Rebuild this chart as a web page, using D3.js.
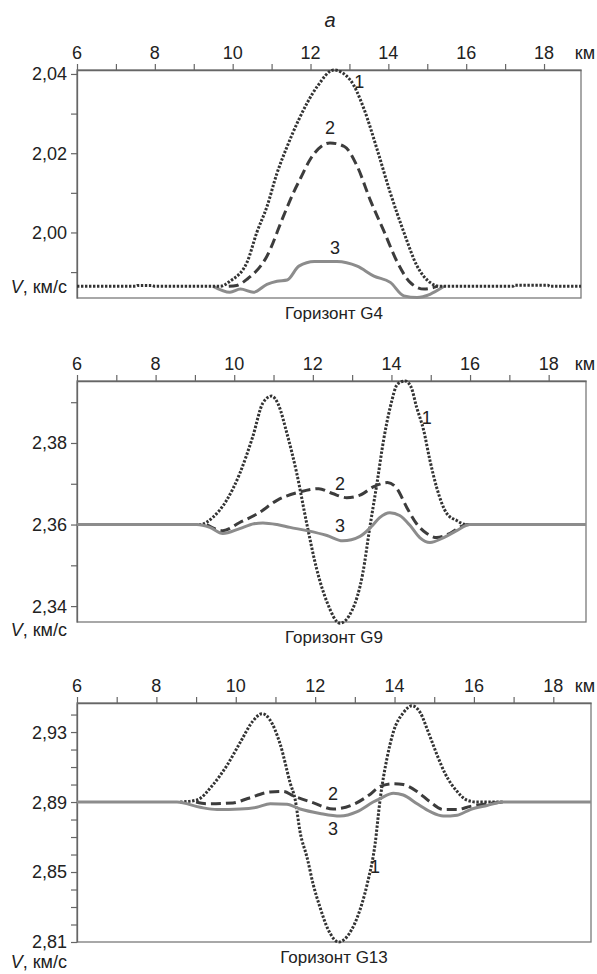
<!DOCTYPE html>
<html>
<head>
<meta charset="utf-8">
<script src="https://cdn.jsdelivr.net/npm/d3@7"></script>
<style>
  body { margin: 0; background: #fff; }
  svg { display: block; font-family: "Liberation Sans", Arial, sans-serif; }
</style>
</head>
<body>
<svg id="chart" width="597" height="974"></svg>
<script>
// x ticks (km) shared by all panels
const xTicks = [6, 7, 8, 9, 10, 11, 12, 13, 14, 15, 16, 17, 18];
const xLabels = [6, 8, 10, 12, 14, 16, 18];

// Horizon G4
const g4Ticks = [1.99, 2.00, 2.01, 2.02, 2.03, 2.04];
const g4Labels = [2.00, 2.02, 2.04];
const g4Curve1 = [[6, 1.9864], [7.5, 1.9864], [7.55, 1.9866], [7.93, 1.9866], [8.0, 1.9864], [9.68, 1.9864], [9.93, 1.9877], [10.37, 1.9925], [10.62, 2.000], [10.88, 2.0065], [11.14, 2.015], [11.4, 2.0217], [11.7, 2.0285], [12.17, 2.0368], [12.6, 2.041], [13.02, 2.0385], [13.38, 2.031], [13.71, 2.021], [14.05, 2.010], [14.4, 2.000], [14.74, 1.9915], [15.07, 1.9874], [15.33, 1.9864], [17.2, 1.9864], [17.25, 1.9867], [18.1, 1.9867], [18.15, 1.9864], [18.95, 1.9864]];
const g4Curve2 = [[9.9, 1.9864], [10.1, 1.9866], [10.37, 1.9882], [10.88, 1.994], [11.3, 2.004], [11.55, 2.0098], [11.75, 2.0138], [11.99, 2.0184], [12.5, 2.0226], [12.87, 2.0217], [13.2, 2.0167], [13.53, 2.0083], [13.9, 2.000], [14.23, 1.9925], [14.56, 1.9874], [14.92, 1.9857], [15.25, 1.9864]];
const g4Curve3 = [[9.5, 1.9864], [9.93, 1.9849], [10.2, 1.9857], [10.53, 1.9849], [10.88, 1.9869], [11.14, 1.9877], [11.4, 1.988], [11.7, 1.9915], [12.1, 1.9927], [12.68, 1.9927], [13.2, 1.9915], [13.63, 1.989], [14.05, 1.9874], [14.4, 1.984], [14.74, 1.9836], [15.07, 1.9844], [15.43, 1.9864]];
const g4Numbers = [["1", 13.25, 2.038], ["2", 12.5, 2.0264], ["3", 12.63, 1.9963]];

// Horizon G9
const g9Ticks = [2.34, 2.35, 2.36, 2.37, 2.38, 2.39];
const g9Labels = [2.34, 2.36, 2.38];
const g9Curve1 = [[9.0, 2.36], [9.13, 2.360], [9.46, 2.3618], [9.81, 2.366], [10.14, 2.3725], [10.47, 2.3815], [10.73, 2.3898], [10.95, 2.3915], [11.12, 2.3895], [11.34, 2.3824], [11.59, 2.3726], [11.85, 2.36], [12.1, 2.349], [12.36, 2.341], [12.69, 2.3358], [13.0, 2.339], [13.27, 2.348], [13.45, 2.3593], [13.63, 2.370], [13.8, 2.3807], [13.97, 2.3888], [14.16, 2.3945], [14.35, 2.3952], [14.5, 2.3937], [14.64, 2.3888], [14.82, 2.3831], [14.98, 2.3757], [15.15, 2.3691], [15.41, 2.3627], [15.66, 2.361], [15.9, 2.36], [16.0, 2.36]];
const g9Curve2 = [[9.3, 2.36], [9.5, 2.359], [9.71, 2.3585], [10.14, 2.3605], [10.6, 2.3627], [11.1, 2.366], [11.67, 2.368], [12.15, 2.3688], [12.5, 2.3676], [12.86, 2.3666], [13.2, 2.3672], [13.55, 2.3693], [13.9, 2.3703], [14.14, 2.3688], [14.39, 2.3642], [14.64, 2.3602], [14.9, 2.3578], [15.15, 2.3568], [15.48, 2.3578], [15.84, 2.3598], [16.0, 2.36]];
const g9Curve3 = [[6, 2.36], [9.05, 2.36], [9.38, 2.3593], [9.71, 2.3578], [10.14, 2.359], [10.5, 2.3602], [10.73, 2.3604], [11.09, 2.36], [11.42, 2.3593], [11.85, 2.3585], [12.36, 2.3573], [12.76, 2.356], [13.2, 2.3571], [13.5, 2.3596], [13.7, 2.3617], [13.96, 2.3629], [14.21, 2.3622], [14.47, 2.3598], [14.72, 2.3568], [14.98, 2.3556], [15.33, 2.3568], [15.66, 2.3585], [15.99, 2.36], [18.95, 2.36]];
const g9Numbers = [["1", 14.9, 2.3863], ["2", 12.69, 2.3701], ["3", 12.69, 2.3598]];

// Horizon G13
const g13Ticks = [2.81, 2.82, 2.83, 2.84, 2.85, 2.86, 2.87, 2.88, 2.89, 2.90, 2.91, 2.92, 2.93, 2.94];
const g13Labels = [2.81, 2.85, 2.89, 2.93];
const g13Curve1 = [[8.6, 2.89], [9.02, 2.8912], [9.43, 2.9], [9.78, 2.911], [10.11, 2.924], [10.44, 2.9365], [10.66, 2.9405], [10.86, 2.937], [11.12, 2.923], [11.37, 2.901], [11.5, 2.891], [11.62, 2.873], [11.8, 2.858], [11.95, 2.843], [12.12, 2.83], [12.33, 2.817], [12.6, 2.81], [12.8, 2.813], [13.06, 2.824], [13.31, 2.843], [13.51, 2.866], [13.64, 2.892], [13.81, 2.915], [13.97, 2.93], [14.22, 2.941], [14.44, 2.945], [14.65, 2.941], [14.85, 2.93], [15.07, 2.917], [15.28, 2.906], [15.58, 2.896], [15.83, 2.891], [16.08, 2.89], [16.74, 2.89]];
const g13Curve2 = [[9.0, 2.89], [9.27, 2.889], [9.93, 2.8895], [10.3, 2.892], [10.86, 2.8957], [11.2, 2.896], [11.45, 2.8935], [11.96, 2.8895], [12.46, 2.886], [12.97, 2.8887], [13.39, 2.8945], [13.64, 2.899], [13.97, 2.9005], [14.22, 2.9], [14.57, 2.896], [14.9, 2.89], [15.23, 2.8857], [15.58, 2.8857], [15.91, 2.8875], [16.33, 2.889], [16.74, 2.89]];
const g13Curve3 = [[6, 2.89], [8.52, 2.89], [9.1, 2.887], [9.53, 2.8857], [10.11, 2.886], [10.53, 2.887], [10.87, 2.889], [11.29, 2.8887], [11.62, 2.886], [12.12, 2.8835], [12.63, 2.882], [13.06, 2.8845], [13.46, 2.89], [13.64, 2.892], [13.97, 2.895], [14.22, 2.894], [14.57, 2.889], [14.9, 2.8845], [15.23, 2.882], [15.58, 2.8825], [15.91, 2.8857], [16.33, 2.888], [16.74, 2.89], [18.95, 2.89]];
const g13Numbers = [["1", 13.51, 2.8529], ["2", 12.45, 2.8951], ["3", 12.45, 2.8751]];

const svg = d3.select("#chart");
const fmt = d => d3.format(".2f")(d).replace(".", ",");

// figure letter
svg.append("text")
    .attr("x", 330).attr("y", 27)
    .attr("text-anchor", "middle")
    .attr("font-size", 20)
    .attr("font-style", "italic")
    .attr("fill", "#222")
    .text("а");

function drawPanel(p) {
    const x = d3.scaleLinear().domain([6, 18.95]).range([77, p.right]);
    const y = d3.scaleLinear().domain(p.yDomain).range([p.bottom, p.top]);
    const g = svg.append("g");

    // frame
    g.append("rect")
        .attr("x", 77).attr("y", p.top)
        .attr("width", p.right - 77).attr("height", p.bottom - p.top)
        .attr("fill", "none").attr("stroke", "#7a7a7a").attr("stroke-width", 1.3);

    // top axis
    const xAxis = g.append("g")
        .attr("transform", `translate(0,${p.top})`)
        .call(d3.axisTop(x).tickValues(xTicks).tickSize(6).tickSizeOuter(0).tickFormat(""));
    xAxis.select(".domain").attr("stroke", "#666").attr("stroke-width", 1.3);
    xAxis.selectAll(".tick line").attr("stroke", "#666").attr("stroke-width", 1.2);

    g.selectAll(".xlab")
        .data(xLabels)
        .join("text")
        .attr("x", d => x(d))
        .attr("y", p.top - 11)
        .attr("text-anchor", "middle")
        .attr("font-size", 18)
        .attr("fill", "#222")
        .text(d => d);
    g.append("text")
        .attr("x", 595).attr("y", p.top - 11)
        .attr("text-anchor", "end")
        .attr("font-size", 18)
        .attr("fill", "#222")
        .text("км");

    // left axis
    const yAxis = g.append("g")
        .attr("transform", "translate(77,0)")
        .call(d3.axisLeft(y).tickValues(p.yTicks).tickSize(6).tickSizeOuter(0).tickFormat(""));
    yAxis.select(".domain").attr("stroke", "#666").attr("stroke-width", 1.3);
    yAxis.selectAll(".tick line").attr("stroke", "#666").attr("stroke-width", 1.2);

    g.selectAll(".ylab")
        .data(p.yLabels)
        .join("text")
        .attr("x", 67)
        .attr("y", d => y(d))
        .attr("dy", "0.36em")
        .attr("text-anchor", "end")
        .attr("font-size", 18)
        .attr("fill", "#222")
        .text(fmt);

    // unit label
    const u = g.append("text")
        .attr("x", 67).attr("y", p.unitY)
        .attr("dy", "0.36em")
        .attr("text-anchor", "end")
        .attr("font-size", 18)
        .attr("fill", "#222");
    u.append("tspan").attr("font-style", "italic").text("V");
    u.append("tspan").text(", км/с");

    // curves
    const line = d3.line()
        .x(d => x(d[0]))
        .y(d => y(d[1]))
        .curve(d3.curveMonotoneX);

    const styles = {
        c1: { stroke: "#333", width: 3, dash: "2.4,1.6" },
        c2: { stroke: "#3c3c3c", width: 3, dash: "10,5" },
        c3: { stroke: "#8c8c8c", width: 3, dash: null }
    };
    p.order.forEach(key => {
        const s = styles[key];
        g.append("path")
            .datum(p.curves[key])
            .attr("d", line)
            .attr("fill", "none")
            .attr("stroke", s.stroke)
            .attr("stroke-width", s.width)
            .attr("stroke-dasharray", s.dash)
            .attr("stroke-linejoin", "round");
    });

    // curve numbers
    g.selectAll(".num")
        .data(p.numbers)
        .join("text")
        .attr("x", d => x(d[1]))
        .attr("y", d => y(d[2]))
        .attr("dy", "0.36em")
        .attr("text-anchor", "middle")
        .attr("font-size", 18)
        .attr("fill", "#222")
        .text(d => d[0]);

    // horizon title
    g.append("text")
        .attr("x", 334).attr("y", p.bottom + 21)
        .attr("text-anchor", "middle")
        .attr("font-size", 17)
        .attr("fill", "#222")
        .text(p.title);
}

drawPanel({
    title: "Горизонт G4", top: 70, bottom: 298, right: 581,
    yDomain: [1.98346, 2.041], yTicks: g4Ticks, yLabels: g4Labels, unitY: 287,
    curves: { c1: g4Curve1, c2: g4Curve2, c3: g4Curve3 },
    order: ["c3", "c2", "c1"], numbers: g4Numbers
});
drawPanel({
    title: "Горизонт G9", top: 381, bottom: 622, right: 586,
    yDomain: [2.3361, 2.3952], yTicks: g9Ticks, yLabels: g9Labels, unitY: 630,
    curves: { c1: g9Curve1, c2: g9Curve2, c3: g9Curve3 },
    order: ["c1", "c2", "c3"], numbers: g9Numbers
});
drawPanel({
    title: "Горизонт G13", top: 703, bottom: 942, right: 591,
    yDomain: [2.81, 2.9466], yTicks: g13Ticks, yLabels: g13Labels, unitY: 962,
    curves: { c1: g13Curve1, c2: g13Curve2, c3: g13Curve3 },
    order: ["c1", "c2", "c3"], numbers: g13Numbers
});
</script>
</body>
</html>
